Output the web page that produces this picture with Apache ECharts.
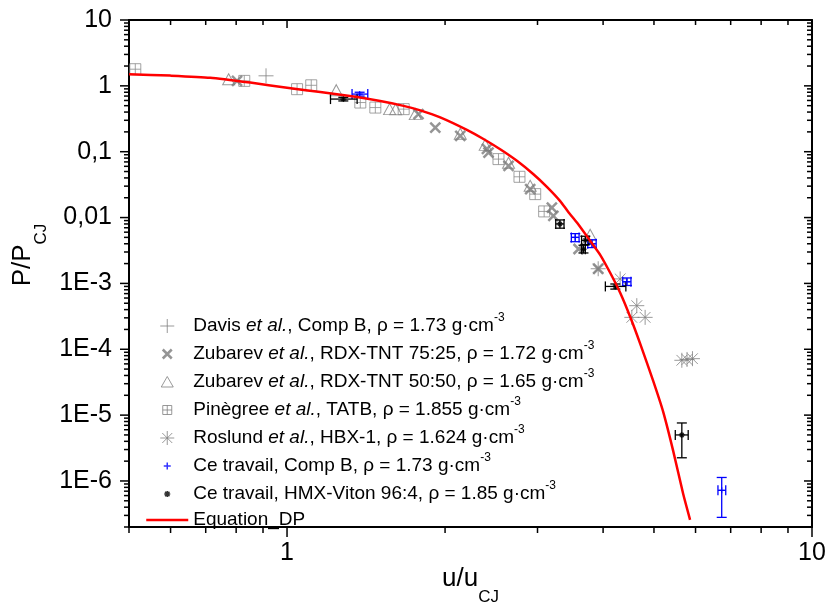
<!DOCTYPE html>
<html><head><meta charset="utf-8">
<script src="https://cdn.jsdelivr.net/npm/echarts@6/dist/echarts.min.js"></script>
<style>html,body{margin:0;padding:0;background:#fff}#c{width:828px;height:602px}</style>
</head><body><div id="c"></div>
<script>
// ---------- data ----------
const X_MIN = 0.5, X_MAX = 10, Y_MIN = 2e-7, Y_MAX = 10;

const curve = [[0.5,1.505],[0.6,1.43],[0.714,1.33],[0.851,1.12],[1.0,0.933],[1.157,0.805],[1.339,0.688],[1.505,0.588],[1.667,0.497],[1.794,0.425],[1.958,0.333],[2.201,0.215],[2.367,0.156],[2.547,0.109],[2.741,0.0728],[2.947,0.0455],[3.126,0.0293],[3.314,0.0178],[3.431,0.01225],[3.569,0.00834],[3.779,0.00445],[3.949,0.00272],[4.126,0.00145],[4.311,7.22e-4],[4.504,3.12e-4],[4.706,1.22e-4],[4.981,3.34e-5],[5.205,1.13e-5],[5.438,2.89e-6],[5.681,6.44e-7],[5.858,2.57e-7]];

const davis = [[0.912,1.42]];
const zub7525 = [[0.803,1.19],[1.780,0.372],[1.916,0.233],[2.138,0.174],[2.403,0.110],[2.42,0.097],[2.642,0.061],[2.905,0.0271],[3.195,0.0142],[3.216,0.0106],[3.592,0.00333],[3.915,0.00167]];
const zub5050 = [[0.774,1.26],[1.241,0.86],[1.568,0.443],[1.61,0.44],[1.755,0.372],[2.138,0.187],[2.385,0.127],[2.642,0.068],[2.905,0.0304],[3.779,0.00548]];
const pinegree = [[0.514,1.79],[0.829,1.19],[1.045,0.89],[1.112,1.02],[1.379,0.558],[1.473,0.468],[1.668,0.443],[2.528,0.0772],[2.772,0.0416],[2.970,0.0227],[3.089,0.0124]];
const roslund = [[3.915,0.00167],[4.311,0.00117],[4.637,4.59e-4],[4.537,3.05e-4],[4.810,3.05e-4],[5.65,6.8e-5],[5.78,7.0e-5],[5.92,7.2e-5]];
// [x, y, xLow, xHigh, yLow, yHigh]
const ceCompB = [[1.375,0.75,1.33,1.425,0.70,0.80],[3.54,0.0050,3.48,3.60,0.0043,0.0057],[3.81,0.0040,3.74,3.88,0.0035,0.0046],[4.44,0.00106,4.36,4.52,0.00093,0.00121],[6.73,7.2e-7,6.62,6.85,2.8e-7,1.13e-6]];
const ceHMX = [[1.28,0.63,1.21,1.36,0.59,0.67],[3.31,0.0080,3.25,3.37,0.0069,0.0092],[3.70,0.0045,3.64,3.76,0.0039,0.0052],[3.67,0.0033,3.64,3.70,0.0029,0.0038],[4.22,0.00090,4.04,4.42,0.00082,0.00098],[5.65,5.0e-6,5.49,5.81,2.25e-6,7.6e-6]];

const xMinorTicks = [0.5,0.6,0.7,0.8,0.9,2,3,4,5,6,7,8,9];
const xMajorTicks = [1,10];
const yMajorTicks = [1e-6,1e-5,1e-4,1e-3,0.01,0.1,1,10];
const yMinorMultipliers = [2,3,4,5,6,7,8,9];
const yMinorDecades = [1e-7,1e-6,1e-5,1e-4,1e-3,0.01,0.1,1];

const legendParts = {
  davis: ['Davis ', 'et al.', ', Comp B, ρ = 1.73 g·cm', '-3'],
  zub75: ['Zubarev ', 'et al.', ', RDX-TNT 75:25, ρ = 1.72 g·cm', '-3'],
  zub50: ['Zubarev ', 'et al.', ', RDX-TNT 50:50, ρ = 1.65 g·cm', '-3'],
  pine: ['Pinègree ', 'et al.', ', TATB, ρ = 1.855 g·cm', '-3'],
  ros: ['Roslund ', 'et al.', ', HBX-1, ρ = 1.624 g·cm', '-3'],
  ceB: ['Ce travail, Comp B, ρ = 1.73 g·cm', '', '', '-3'],
  ceH: ['Ce travail, HMX-Viton 96:4, ρ = 1.85 g·cm', '', '', '-3'],
  eq: ['Equation_DP', '', '', '']
};

// ---------- chart ----------
const FONT = "'Liberation Sans', Arial, sans-serif";
const GRAY = '#808080';
const chart = echarts.init(document.getElementById('c'), null, {renderer: 'canvas'});

function yLabel(v) {
  const e = Math.log10(v), r = Math.round(e);
  if (Math.abs(e - r) > 1e-6) return '';
  if (r === 1) return '10';
  if (r === 0) return '1';
  if (r === -1) return '0,1';
  if (r === -2) return '0,01';
  return '1E' + r;
}
function xLabel(v) {
  const e = Math.log10(v), r = Math.round(e);
  if (Math.abs(e - r) > 1e-6) return '';
  return String(Math.pow(10, r));
}

function errRender(color) {
  return function (params, api) {
    const x = api.value(0), y = api.value(1);
    const c = api.coord([x, y]);
    const l = api.coord([api.value(2), y]);
    const r = api.coord([api.value(3), y]);
    const b = api.coord([x, api.value(4)]);
    const t = api.coord([x, api.value(5)]);
    const cap = 5;
    const st = {stroke: color, lineWidth: 1.3};
    const seg = (x1, y1, x2, y2) => ({type: 'line', shape: {x1, y1, x2, y2}, style: st});
    return {type: 'group', children: [
      seg(l[0], c[1], r[0], c[1]), seg(l[0], c[1] - cap, l[0], c[1] + cap), seg(r[0], c[1] - cap, r[0], c[1] + cap),
      seg(c[0], b[1], c[0], t[1]), seg(c[0] - cap, b[1], c[0] + cap, b[1]), seg(c[0] - cap, t[1], c[0] + cap, t[1])
    ]};
  };
}

const tickData = [];
xMinorTicks.forEach(v => tickData.push([v, 1, 0, 0]));
xMajorTicks.forEach(v => tickData.push([v, 1, 0, 1]));
yMajorTicks.forEach(v => tickData.push([1, v, 1, 1]));
yMinorDecades.forEach(d => yMinorMultipliers.forEach(m => {
  const v = m * d; if (v >= Y_MIN * 0.999 && v <= Y_MAX) tickData.push([1, v, 1, 0]);
}));

function tickRender(params, api) {
  const isY = api.value(2) === 1, major = api.value(3) === 1;
  const st = {stroke: '#000', lineWidth: 1.5};
  if (!isY) {
    const v = api.value(0);
    const b = api.coord([v, Y_MIN]), t = api.coord([v, Y_MAX]);
    const lb = major ? 10 : 6, lt = major ? 8 : 5;
    return {type: 'group', children: [
      {type: 'line', shape: {x1: b[0], y1: b[1], x2: b[0], y2: b[1] + lb}, style: st},
      {type: 'line', shape: {x1: t[0], y1: t[1], x2: t[0], y2: t[1] + lt}, style: st}
    ]};
  } else {
    const v = api.value(1);
    const l = api.coord([X_MIN, v]), r = api.coord([X_MAX, v]);
    const ll = major ? 9 : 5, lr = major ? 8 : 5;
    return {type: 'group', children: [
      {type: 'line', shape: {x1: l[0] - ll, y1: l[1], x2: l[0], y2: l[1]}, style: st},
      {type: 'line', shape: {x1: r[0] - lr, y1: r[1], x2: r[0], y2: r[1]}, style: st}
    ]};
  }
}

const names = {
  davis: 'Davis et al., Comp B', zub75: 'Zubarev et al., RDX-TNT 75:25', zub50: 'Zubarev et al., RDX-TNT 50:50',
  pine: 'Pinègree et al., TATB', ros: 'Roslund et al., HBX-1', ceB: 'Ce travail, Comp B', ceH: 'Ce travail, HMX-Viton 96:4', eq: 'Equation_DP'
};
const nameToKey = {}; Object.keys(names).forEach(k => nameToKey[names[k]] = k);

const axisLineStyle = {show: true, onZero: false, lineStyle: {color: '#000', width: 2}};
const axisCommon = {type: 'log', logBase: 10, axisTick: {show: false}, splitLine: {show: false}, minorTick: {show: false}, minorSplitLine: {show: false}, axisLine: axisLineStyle, nameMoveOverlap: false};
const NONE = 'rgba(0,0,0,0)';

const option = {
  animation: false,
  backgroundColor: '#fff',
  grid: {left: 129, top: 20, width: 683, height: 507, containLabel: false, outerBoundsMode: 'none'},
  xAxis: [
    Object.assign({}, axisCommon, {position: 'bottom', min: X_MIN, max: X_MAX,
      axisLabel: {formatter: xLabel, fontSize: 25, fontFamily: FONT, color: '#000', margin: 14, showMinLabel: true, showMaxLabel: true, hideOverlap: false},
      name: '{a|u/u}{b|CJ}', nameLocation: 'middle', nameGap: 39,
      nameTextStyle: {rich: {
        a: {fontSize: 26, fontFamily: FONT, color: '#000', height: 26, lineHeight: 40, verticalAlign: 'top'},
        b: {fontSize: 17, fontFamily: FONT, color: '#000', height: 17, lineHeight: 40, verticalAlign: 'bottom'}}}}),
    Object.assign({}, axisCommon, {position: 'top', min: X_MIN, max: X_MAX, axisLabel: {show: false}})
  ],
  yAxis: [
    Object.assign({}, axisCommon, {position: 'left', min: Y_MIN, max: Y_MAX,
      axisLabel: {formatter: yLabel, fontSize: 25, fontFamily: FONT, color: '#000', margin: 17, showMinLabel: true, hideOverlap: false},
      name: '{a|P/P}{b|CJ}', nameLocation: 'middle', nameGap: 79, nameRotate: 90,
      nameTextStyle: {padding: [0, 0, 0, 37], rich: {
        a: {fontSize: 26, fontFamily: FONT, color: '#000', height: 26, lineHeight: 40, verticalAlign: 'top'},
        b: {fontSize: 17, fontFamily: FONT, color: '#000', height: 17, lineHeight: 40, verticalAlign: 'bottom'}}}}),
    Object.assign({}, axisCommon, {position: 'right', min: Y_MIN, max: Y_MAX, axisLabel: {show: false}})
  ],
  legend: {
    orient: 'vertical', left: 145, top: 312, padding: 0, itemGap: 2, itemWidth: 42, itemHeight: 14,
    selectedMode: false, symbolKeepAspect: true,
    formatter: function (name) {
      const p = legendParts[nameToKey[name]];
      let s = '';
      if (p[0]) s += '{n|' + p[0] + '}';
      if (p[1]) s += '{i|' + p[1] + '}';
      if (p[2]) s += '{n|' + p[2] + '}';
      if (p[3]) s += '{s|' + p[3] + '}';
      return s;
    },
    textStyle: {fontSize: 19, fontFamily: FONT, color: '#000', lineHeight: 24, rich: {
      n: {fontSize: 19, fontFamily: FONT, color: '#000', lineHeight: 24},
      i: {fontSize: 19, fontFamily: FONT, fontStyle: 'italic', color: '#000', lineHeight: 24},
      s: {fontSize: 12, fontFamily: FONT, color: '#000', height: 8, lineHeight: 24, verticalAlign: 'top'}
    }},
    data: [
      {name: names.davis, icon: 'path://M0,7L14,7M7,0L7,14', itemStyle: {color: NONE, borderColor: GRAY, borderWidth: 1}},
      {name: names.zub75, icon: 'path://M0,0M14,14M2.5,2.5L11.5,11.5M11.5,2.5L2.5,11.5', itemStyle: {color: NONE, borderColor: '#7a7a7a', borderWidth: 2.5}},
      {name: names.zub50, icon: 'path://M0,0M14,14M7,1.5L13,12L1,12Z', itemStyle: {color: NONE, borderColor: GRAY, borderWidth: 1}},
      {name: names.pine, icon: 'path://M0,0M14,14M2.5,2.5L11.5,2.5L11.5,11.5L2.5,11.5ZM7,2.5L7,11.5M2.5,7L11.5,7', itemStyle: {color: NONE, borderColor: GRAY, borderWidth: 1}},
      {name: names.ros, icon: 'path://M0,7L14,7M7,0L7,14M2,2L12,12M12,2L2,12', itemStyle: {color: NONE, borderColor: GRAY, borderWidth: 1}},
      {name: names.ceB, icon: 'path://M0,0M14,14M3.5,7L10.5,7M7,3.5L7,10.5', itemStyle: {color: NONE, borderColor: '#0000ff', borderWidth: 1.5}},
      {name: names.ceH, icon: 'path://M0,0M14,14M4,7L10,7M7,4L7,10M4.8,4.8L9.2,9.2M9.2,4.8L4.8,9.2', itemStyle: {color: NONE, borderColor: '#000', borderWidth: 1.6}},
      {name: names.eq, icon: 'path://M0,0M42,14M0,7L42,7', itemStyle: {color: NONE, borderColor: '#ff0000', borderWidth: 2.5}}
    ]
  },
  series: [
    {type: 'custom', name: 'ticks', data: tickData, renderItem: tickRender, clip: false, silent: true, z: 20, encode: {x: 0, y: 1}},
    {type: 'scatter', name: names.pine, data: pinegree, symbol: 'path://M0,0L10,0L10,10L0,10ZM5,0L5,10M0,5L10,5', symbolSize: 11,
      itemStyle: {color: NONE, borderColor: '#8c8c8c', borderWidth: 1}, z: 2},
    {type: 'scatter', name: names.zub50, data: zub5050, symbol: 'path://M6,0L12,10.4L0,10.4Z', symbolSize: [12, 11],
      itemStyle: {color: NONE, borderColor: GRAY, borderWidth: 1}, z: 2},
    {type: 'scatter', name: names.zub75, data: zub7525, symbol: 'path://M0,0L10,10M10,0L0,10', symbolSize: 10,
      itemStyle: {color: NONE, borderColor: '#7a7a7a', borderWidth: 2.5}, z: 2},
    {type: 'scatter', name: names.davis, data: davis, symbol: 'path://M0,7L14,7M7,0L7,14', symbolSize: 15,
      itemStyle: {color: NONE, borderColor: GRAY, borderWidth: 1}, z: 2},
    {type: 'scatter', name: names.ros, data: roslund, symbol: 'path://M0,7L14,7M7,0L7,14M2,2L12,12M12,2L2,12', symbolSize: 15,
      itemStyle: {color: NONE, borderColor: GRAY, borderWidth: 1}, z: 2},
    {type: 'custom', name: 'errB', data: ceCompB, renderItem: errRender('#0000ff'), clip: false, silent: true, z: 4, encode: {x: 0, y: 1}},
    {type: 'custom', name: 'errH', data: ceHMX, renderItem: errRender('#000000'), clip: false, silent: true, z: 4, encode: {x: 0, y: 1}},
    {type: 'scatter', name: names.ceB, data: ceCompB.map(d => [d[0], d[1]]), symbol: 'path://M0,3L6,3M3,0L3,6', symbolSize: 6,
      itemStyle: {color: NONE, borderColor: '#0000ff', borderWidth: 1.3}, z: 5},
    {type: 'scatter', name: names.ceH, data: ceHMX.map(d => [d[0], d[1]]), symbol: 'path://M0,3L6,3M3,0L3,6M1,1L5,5M5,1L1,5', symbolSize: 6,
      itemStyle: {color: NONE, borderColor: '#000', borderWidth: 1.3}, z: 5},
    {type: 'line', name: names.eq, data: curve, symbol: 'none', showSymbol: false, smooth: 0.2,
      lineStyle: {color: '#ff0000', width: 2.5, join: 'round'}, itemStyle: {color: '#ff0000'}, z: 6}
  ]
};
chart.setOption(option);
</script>
</body></html>
